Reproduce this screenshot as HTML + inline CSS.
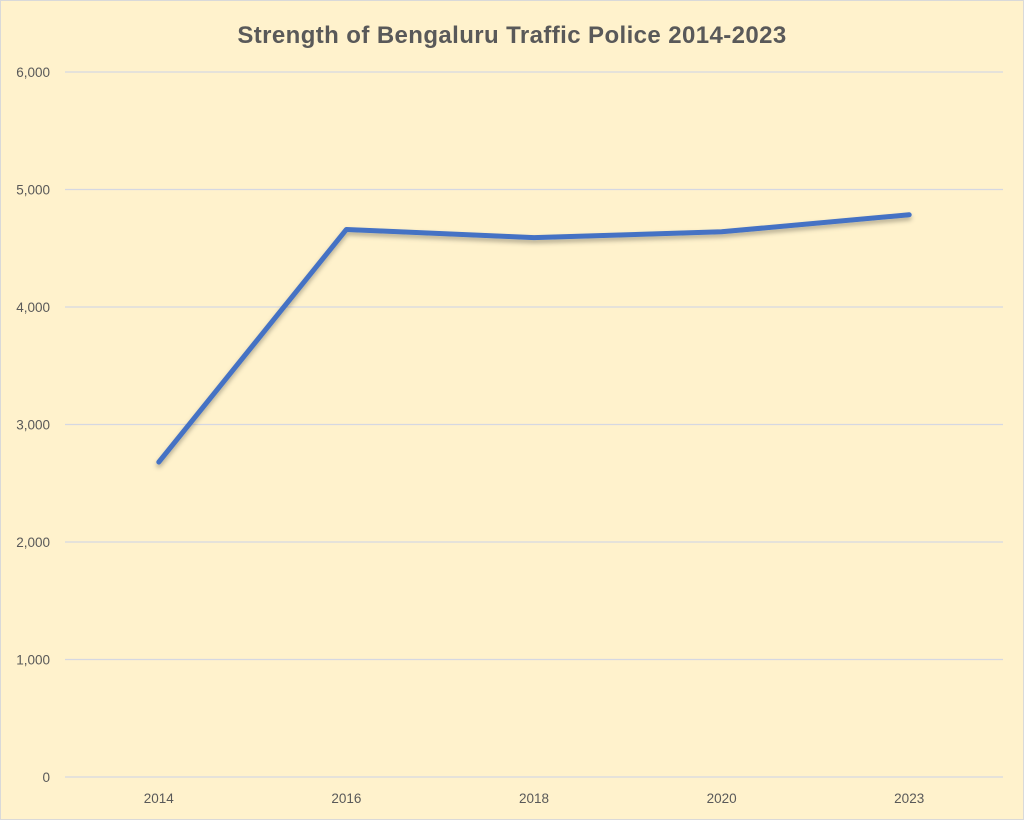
<!DOCTYPE html>
<html><head><meta charset="utf-8"><style>
html,body{margin:0;padding:0;background:#fff;}
svg{display:block;font-family:"Liberation Sans",sans-serif;}
</style></head><body>
<svg id="chart" width="1024" height="820" viewBox="0 0 1024 820">
<defs><filter id="sh" x="-5%" y="-5%" width="110%" height="120%"><feDropShadow dx="0" dy="3" stdDeviation="2.5" flood-color="#000" flood-opacity="0.3"/></filter></defs>
<rect x="0.5" y="0.5" width="1023" height="819" fill="#FFF2CC" stroke="#D9D9D9"/>
<text x="512" y="43" text-anchor="middle" font-size="24" letter-spacing="0.4" font-weight="bold" fill="#595959">Strength of Bengaluru Traffic Police 2014-2023</text>
<g id="grid"></g><g id="yt"></g><g id="xt"></g><g id="series"></g>
</svg>
<script>
const categories=["2014","2016","2018","2020","2023"];
const values=[2680,4660,4590,4640,4785];
const yTicks=[0,1000,2000,3000,4000,5000,6000];
const yTickLabels=["0","1,000","2,000","3,000","4,000","5,000","6,000"];
const NS="http://www.w3.org/2000/svg";
const L=65,R=1003,T=72,B=777,YMAX=6000;
function y(v){return B-(v/YMAX)*(B-T);}
function x(i){const bw=(R-L)/categories.length;return L+bw*(i+0.5);}
function mk(t,a,p){const e=document.createElementNS(NS,t);for(const k in a)e.setAttribute(k,a[k]);p.appendChild(e);return e;}
const g=document.getElementById('grid'),yt=document.getElementById('yt'),xt=document.getElementById('xt'),s=document.getElementById('series');
yTicks.forEach((v,i)=>{
 const l=mk('line',{x1:L,x2:R,y1:y(v),y2:y(v),stroke:'#D5D8E2','stroke-width':1.2},g);
 
 
 const t=mk('text',{x:50,y:y(v)+5,'text-anchor':'end','font-size':13.5,fill:'#595959'},yt);
 t.textContent=yTickLabels[i];
 
 
});
categories.forEach((c,i)=>{
 const t=mk('text',{x:x(i),y:803,'text-anchor':'middle','font-size':13.5,fill:'#595959'},xt);
 t.textContent=c;
 
 
});
const p=mk('polyline',{points:values.map((v,i)=>x(i)+','+y(v)).join(' '),fill:'none',stroke:'#4472C4','stroke-width':5,'stroke-linejoin':'round','stroke-linecap':'round',filter:'url(#sh)'},s);


</script>
</body></html>
